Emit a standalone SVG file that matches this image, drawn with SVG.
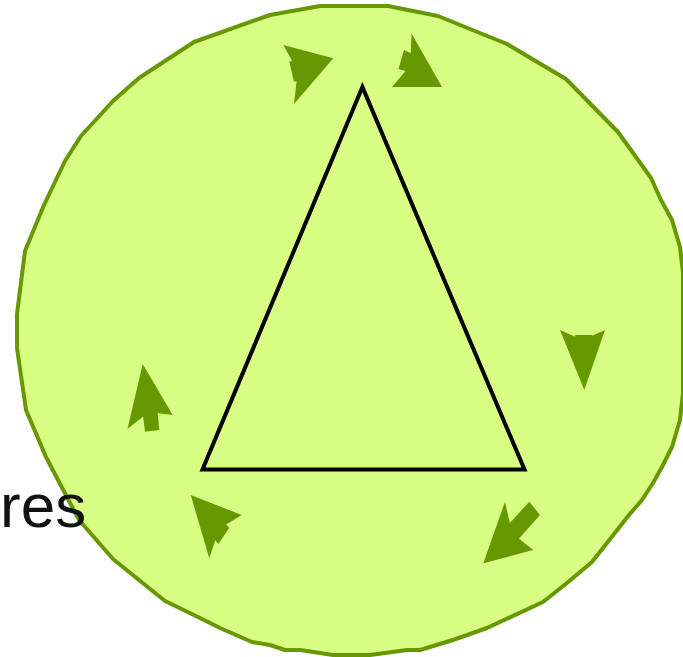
<svg xmlns="http://www.w3.org/2000/svg" width="683" height="657" viewBox="0 0 683 657">
  <style>
    .disc { fill: #d8fe84; stroke: #669900; stroke-width: 4; stroke-linejoin: round; }
    .tri { fill: none; stroke: #000000; stroke-width: 4; stroke-linejoin: miter; }
    .arr { fill: #669900; stroke: none; }
    .lbl { font-family: "Liberation Sans", Arial, sans-serif; font-size: 62px; fill: #111111; }
  </style>
  <g id="disc">
    <polygon class="disc" points="320,6 388,6 438,16 507,44 566,79 618,132 651,178 661,200 672,220 680,247 683,273 683,393 680,420 672,447 662,467 653,483 642,500 629,515 592,562 567,583 543,602 487,628 453,640 420,650 407,650 370,655 333,655 300,650 285,650 270,645 252,642 220,628 200,618 165,601 113,559 79,520 46,457 26,410 17,348 17,314 25,251 44,205 65,161 81,136 113,101 139,78 194,42 270,15"/>
  </g>
  <g id="triangle">
    <polygon class="tri" points="362.4,87 202.5,469.5 524.5,469.5"/>
  </g>
  <g id="arrows">
    <g id="arrow-top-left">
      <polygon class="arr" points="333.3,58.3 283.3,45 297.7,71.1 294,104"/>
      <polygon class="arr" points="289.3,61.7 298.3,59.3 302.7,80 294,81.7"/>
    </g>
    <g id="arrow-top-right">
      <polygon class="arr" points="442,87 411.6,33.5 410.1,65.8 392,87"/>
      <polygon class="arr" points="404,50 418,56.5 411.6,73 398.5,69"/>
    </g>
    <g id="arrow-right">
      <polygon class="arr" points="584.3,390 560,330 582.5,340 605,330"/>
      <polygon class="arr" points="575,335 592,335 592,350 575,350"/>
    </g>
    <g id="arrow-bottom-right">
      <polygon class="arr" points="483.3,563.3 505,501.7 512.1,533.2 533.3,550"/>
      <polygon class="arr" points="529.3,501.7 540,515 516,542 505,528.3"/>
    </g>
    <g id="arrow-bottom-left">
      <polygon class="arr" points="190.7,495 241.7,515 219.1,529 209.3,558.3"/>
      <polygon class="arr" points="219.5,517 229.3,528 218.3,544 209.5,533"/>
    </g>
    <g id="arrow-left">
      <polygon class="arr" points="142.7,364 172.7,415 148.8,412.1 127.5,429"/>
      <polygon class="arr" points="141.7,405 156.7,403.3 159.3,430 145,431.7"/>
    </g>
  </g>
  <text class="lbl" x="0" y="527">res</text>
</svg>
